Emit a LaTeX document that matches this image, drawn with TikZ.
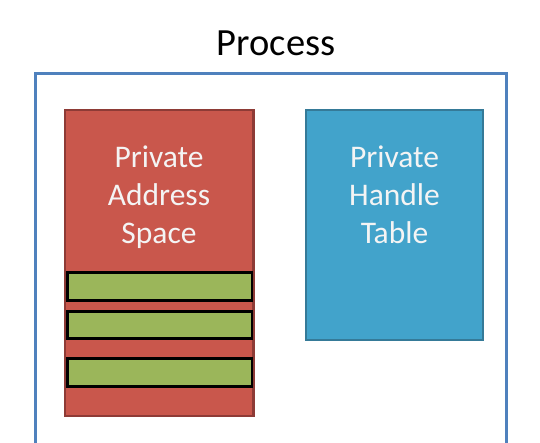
\documentclass[tikz,border=0pt]{standalone}
\usepackage{fontspec}
\setmainfont{Carlito}
\definecolor{procblue}{HTML}{4F81BD}
\definecolor{redfill}{HTML}{C9574C}
\definecolor{redline}{HTML}{8E3B36}
\definecolor{bluefill}{HTML}{42A3CB}
\definecolor{blueline}{HTML}{357A98}
\definecolor{greenfill}{HTML}{9BB65A}
\definecolor{boxtext}{HTML}{F4F4F4}
\tikzset{
  box/.style={draw, anchor=north west, inner sep=0pt, outer sep=0pt, line width=2.8pt},
  bar/.style={draw=black, fill=greenfill, anchor=north west, inner sep=0pt, outer sep=0pt, line width=2.2pt},
  boxlabel/.style={text=boxtext, align=center, anchor=base, inner sep=0pt,
    font=\fontsize{31.5}{38}\selectfont},
}
\begin{document}
\begin{tikzpicture}[x=1pt,y=-1pt]
\useasboundingbox (0,0) rectangle (540,443);
\begin{scope}
\clip (0,0) rectangle (540,443);
\node[draw=procblue, line width=3pt, anchor=north west, inner sep=0pt, outer sep=0pt,
  minimum width=470.5pt, minimum height=400pt] (proc) at (35.5,74) {};
\end{scope}
\node[anchor=base, inner sep=0pt, font=\fontsize{38.5}{44}\selectfont] (title) at (276,56) {Process};
\node[box, draw=redline, fill=redfill, minimum width=188.5pt, minimum height=306pt] (pas) at (65,110) {};
\node[box, draw=blueline, fill=bluefill, minimum width=177pt, minimum height=230pt] (pht) at (306,110) {};
\node[bar, minimum width=184.5pt, minimum height=28pt] (b1) at (67.5,272.5) {};
\node[bar, minimum width=184.5pt, minimum height=27pt] (b2) at (67.5,311.5) {};
\node[bar, minimum width=184.5pt, minimum height=28pt] (b3) at (67.5,358.5) {};
\node[boxlabel] (pastext) at (159,244) {Private\\Address\\Space};
\node[boxlabel] (phttext) at (394.5,244) {Private\\Handle\\Table};
\end{tikzpicture}
\end{document}
